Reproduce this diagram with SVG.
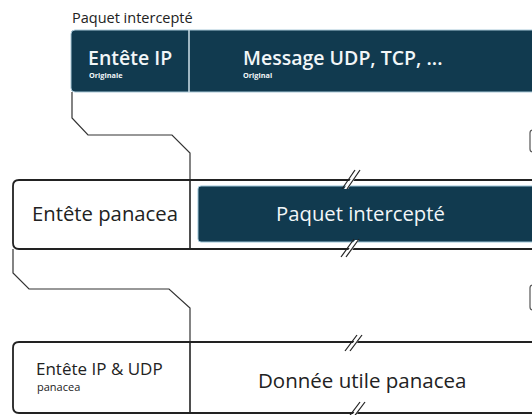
<svg xmlns="http://www.w3.org/2000/svg" width="532" height="415" viewBox="0 0 532 415">
<style>
.t{font-family:"Open Sans","Noto Sans","DejaVu Sans",sans-serif}
.dark{fill:#113a4f}
.w{fill:#f2f6f8}
.k{fill:#222}
.conn{fill:none;stroke:#333;stroke-width:1.2}
.frame{fill:#fff;stroke:#222;stroke-width:1.8}
.div{stroke:#222;stroke-width:1.6}
.slash{stroke:#222;stroke-width:1.2}
</style>
<rect width="532" height="415" fill="#fff"/>
<g id="connectors">
<path class="conn" d="M72 92 V118 L88 135 H172 L190 153 V180"/>
<path class="conn" d="M13 249 V273 L29 289 H169 L190 308 V342"/>
</g>
<g id="paquet-original">
<text class="t k" x="72" y="23" font-size="14.5">Paquet intercepté</text>
<rect class="dark" x="71" y="30" width="480" height="62" rx="4" stroke="#a9c8d8" stroke-width="1"/>
<line x1="189" y1="30" x2="189" y2="92" stroke="#cfe0e8" stroke-width="1.5"/>
<text class="t w" x="88" y="65" font-size="19.5" font-weight="600">Entête IP</text>
<text class="t w" x="89" y="77.5" font-size="7.3" font-weight="700">Originale</text>
<text class="t w" x="243" y="65" font-size="19.5" font-weight="600">Message UDP, TCP, ...</text>
<text class="t w" x="243" y="77.5" font-size="7.3" font-weight="700">Original</text>
</g>
<g id="panacea-packet">
<path class="frame" d="M545 180 H19 Q13 180 13 186 V243 Q13 249 19 249 H545"/>
<line class="div" x1="190" y1="180" x2="190" y2="249"/>
<rect class="dark" x="198" y="186" width="350" height="56" rx="3" stroke="#9cc3d6" stroke-width="1"/>
<text class="t k" x="32" y="221" font-size="20.3">Entête panacea</text>
<text class="t w" x="276" y="221" font-size="20.3">Paquet intercepté</text>
<polygon points="344,189 356,171 360,171 348,189" fill="#fff"/>
<line class="slash" x1="342" y1="189" x2="355" y2="170"/>
<line class="slash" x1="347" y1="189" x2="360" y2="170"/>
<polygon points="343,258 355,240 359,240 347,258" fill="#fff"/>
<line class="slash" x1="341" y1="257" x2="354" y2="239"/>
<line class="slash" x1="346" y1="257" x2="359" y2="239"/>
<rect x="530" y="130" width="20" height="22" rx="3" fill="none" stroke="#555" stroke-width="1.2"/>
</g>
<g id="panacea-udp">
<path class="frame" d="M545 342 H19 Q13 342 13 348 V407 Q13 413 19 413 H545"/>
<line class="div" x1="190" y1="342" x2="190" y2="413"/>
<text class="t k" x="36" y="375" font-size="17">Entête IP &amp; UDP</text>
<text class="t k" x="37" y="391" font-size="11">panacea</text>
<text class="t k" x="258" y="388" font-size="20.5">Donnée utile panacea</text>
<polygon points="347,351 358,336 362,336 351,351" fill="#fff"/>
<line class="slash" x1="345" y1="351" x2="357" y2="335"/>
<line class="slash" x1="350" y1="351" x2="362" y2="335"/>
<polygon points="350,418 361,403 365,403 354,418" fill="#fff"/>
<line class="slash" x1="348" y1="418" x2="360" y2="402"/>
<line class="slash" x1="353" y1="418" x2="365" y2="402"/>
<rect x="530" y="285" width="20" height="25" rx="3" fill="none" stroke="#555" stroke-width="1.2"/>
</g>
</svg>
